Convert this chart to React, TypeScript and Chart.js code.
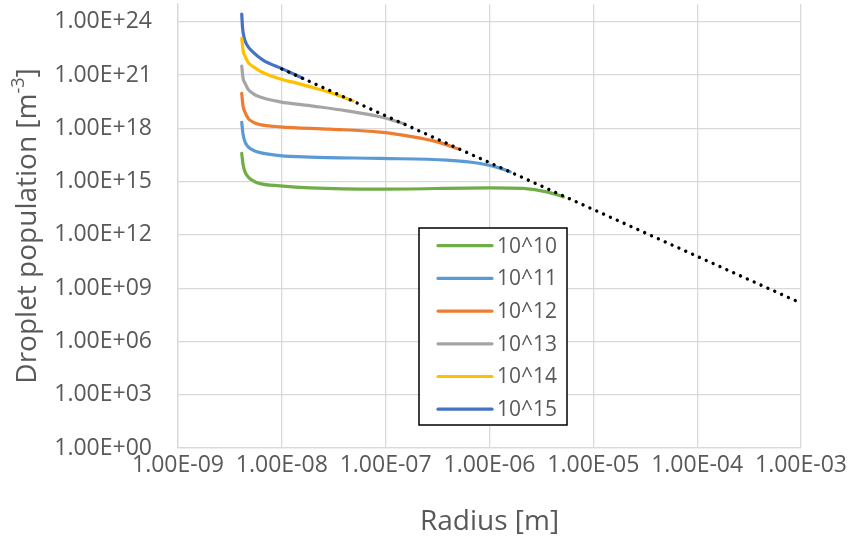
import React, { useEffect, useRef } from 'react';
import { Chart, registerables } from 'chart.js';

Chart.register(...registerables);

// ---- Data (radius [m], droplet population [m^-3]) ----
const seriesLabels = ['10^10', '10^11', '10^12', '10^13', '10^14', '10^15'];
const seriesColors = ['#70AD47', '#5B9BD5', '#ED7D31', '#A5A5A5', '#FFC000', '#4472C4'];

const r10 = [4.11e-9, 4.23e-9, 4.42e-9, 4.72e-9, 5.16e-9, 6.17e-9, 9.61e-9, 1.87e-8, 8.83e-8, 1.01e-6, 2.12e-6, 3.56e-6, 5.15e-6];
const n10 = [3.85e16, 9.62e15, 3.54e15, 1.9e15, 1.21e15, 7.67e14, 5.77e14, 4.45e14, 3.75e14, 4.45e14, 4.11e14, 2.65e14, 1.38e14];

const r11 = [4.11e-9, 4.23e-9, 4.42e-9, 4.72e-9, 5.28e-9, 6.17e-9, 9.61e-9, 1.87e-8, 8.83e-8, 3.9e-7, 8.12e-7, 1.265e-6, 1.58e-6];
const n11 = [2.15e18, 4.71e17, 1.73e17, 9.3e16, 5.91e16, 4.28e16, 2.9e16, 2.39e16, 2.01e16, 1.62e16, 1.05e16, 5.73e15, 3.55e15];

const r12 = [4.11e-9, 4.23e-9, 4.42e-9, 4.72e-9, 5.28e-9, 6.17e-9, 9.61e-9, 2.91e-8, 8.83e-8, 1.84e-7, 3.13e-7, 5.01e-7];
const n12 = [9.25e19, 1.78e19, 8.18e18, 3.76e18, 2.23e18, 1.61e18, 1.22e18, 9.02e17, 6.11e17, 3.32e17, 1.73e17, 6.9e16];

const r13 = [4.11e-9, 4.23e-9, 4.42e-9, 4.72e-9, 5.28e-9, 6.17e-9, 9.61e-9, 2.01e-8, 4.22e-8, 8.83e-8, 1.54e-7];
const n13 = [3.19e21, 6.73e20, 3.52e20, 1.61e20, 9.02e19, 5.73e19, 3.11e19, 1.78e19, 9.68e18, 4.45e18, 1.73e18];

const r14 = [4.11e-9, 4.23e-9, 4.42e-9, 4.72e-9, 5.28e-9, 6.17e-9, 7.69e-9, 1.004e-8, 1.4e-8, 2.0e-8, 2.91e-8, 4.85e-8];
const n14 = [1.16e23, 2.55e22, 1.17e22, 5.37e21, 2.99e21, 1.67e21, 9.31e20, 5.55e20, 3.52e20, 1.96e20, 1.03e20, 3.54e19];

const r15 = [4.11e-9, 4.18e-9, 4.32e-9, 4.62e-9, 5.16e-9, 6.59e-9, 1.027e-8, 1.6e-8];
const n15 = [2.72e24, 5.0e23, 1.37e23, 4.87e22, 2.24e22, 6.95e21, 2.16e21, 6.47e20];

const guideR = [1e-8, 1e-3];
const guideN = [2.2e21, 1.43e8];

const xTicks = [1e-9, 1e-8, 1e-7, 1e-6, 1e-5, 1e-4, 1e-3];
const yTicks = [1e0, 1e3, 1e6, 1e9, 1e12, 1e15, 1e18, 1e21, 1e24];

const seriesR = [r10, r11, r12, r13, r14, r15];
const seriesN = [n10, n11, n12, n13, n14, n15];

const FONT = "'Open Sans', 'Noto Sans', sans-serif";
const TEXT = '#595959';
const GRID = '#d9d9d9';

function excelExp(v: number): string {
  const [m, e] = Number(v).toExponential(2).split('e');
  const sign = e[0] === '-' ? '-' : '+';
  const digits = e.replace(/^[+-]/, '').padStart(2, '0');
  return `${m}E${sign}${digits}`;
}

const yTitlePlugin = {
  id: 'yTitleSup',
  afterDraw(chart: any) {
    const { ctx, chartArea } = chart;
    const cy = (chartArea.top + chartArea.bottom) / 2;
    const cx = 28;
    const mainFont = `28px ${FONT}`;
    const supFont = `18px ${FONT}`;
    const a = 'Droplet population [m';
    const s = '-3';
    const b = ']';
    ctx.save();
    ctx.translate(cx, cy);
    ctx.rotate(-Math.PI / 2);
    ctx.fillStyle = TEXT;
    ctx.textBaseline = 'middle';
    ctx.textAlign = 'left';
    ctx.font = mainFont;
    const wa = ctx.measureText(a).width;
    const wb = ctx.measureText(b).width;
    ctx.font = supFont;
    const ws = ctx.measureText(s).width;
    const total = wa + ws + wb;
    let x = -total / 2;
    ctx.font = mainFont;
    ctx.fillText(a, x, 0);
    x += wa;
    ctx.font = supFont;
    ctx.fillText(s, x, -9);
    x += ws;
    ctx.font = mainFont;
    ctx.fillText(b, x, 0);
    ctx.restore();
  },
};

const legendPlugin = {
  id: 'boxLegend',
  afterDraw(chart: any) {
    const { ctx, chartArea } = chart;
    const left = chartArea.left + 241;
    const top = chartArea.top + 224;
    const w = 148;
    const h = 197;
    ctx.save();
    ctx.fillStyle = '#ffffff';
    ctx.fillRect(left, top, w, h);
    ctx.strokeStyle = '#000000';
    ctx.lineWidth = 1.5;
    ctx.strokeRect(left, top, w, h);
    const items = chart.data.datasets.filter((d: any) => d.inLegend);
    items.forEach((d: any, i: number) => {
      const y = top + 17.7 + i * 32.7;
      ctx.strokeStyle = d.borderColor;
      ctx.lineWidth = 3.2;
      ctx.lineCap = 'round';
      ctx.beginPath();
      ctx.moveTo(left + 19, y);
      ctx.lineTo(left + 73, y);
      ctx.stroke();
      ctx.fillStyle = TEXT;
      ctx.font = `21px ${FONT}`;
      ctx.textBaseline = 'middle';
      ctx.textAlign = 'left';
      ctx.fillText(d.label, left + 78, y + 1);
    });
    ctx.restore();
  },
};

export default function App() {
  const canvasRef = useRef<HTMLCanvasElement | null>(null);

  useEffect(() => {
    if (!canvasRef.current) return;
    const datasets: any[] = [
      {
        label: 'guide',
        inLegend: false,
        data: guideR.map((x, i) => ({ x, y: guideN[i] })),
        borderColor: '#000000',
        borderWidth: 3.4,
        borderDash: [0.01, 7.5],
        borderCapStyle: 'round',
        showLine: true,
        pointRadius: 0,
        order: 0,
      },
      ...seriesLabels.map((label, k) => ({
        label,
        inLegend: true,
        data: seriesR[k].map((x, i) => ({ x, y: seriesN[k][i] })),
        borderColor: seriesColors[k],
        backgroundColor: seriesColors[k],
        borderWidth: 3.2,
        borderCapStyle: 'round',
        borderJoinStyle: 'round',
        showLine: true,
        pointRadius: 0,
        cubicInterpolationMode: 'monotone',
        order: 1,
      })),
    ];

    const chart = new Chart(canvasRef.current, {
      type: 'scatter',
      data: { datasets },
      options: {
        animation: false,
        responsive: false,
        maintainAspectRatio: false,
        layout: { padding: { top: 4, right: 50, bottom: 0, left: 0 } },
        plugins: {
          legend: { display: false },
          tooltip: { enabled: false },
        },
        scales: {
          x: {
            type: 'logarithmic',
            min: 1e-9,
            max: 1e-3,
            afterBuildTicks: (axis: any) => {
              axis.ticks = xTicks.map((v) => ({ value: v }));
            },
            afterFit: (axis: any) => {
              axis.height = 99;
              axis.paddingLeft = 0;
              axis.paddingRight = 0;
            },
            grid: { color: GRID, lineWidth: 1.3, drawTicks: false },
            border: { color: GRID, width: 1.3 },
            ticks: {
              autoSkip: false,
              maxRotation: 0,
              padding: 4,
              color: TEXT,
              font: { family: FONT, size: 23 },
              callback: (v: any) => excelExp(Number(v)),
            },
            title: {
              display: true,
              text: 'Radius [m]',
              color: TEXT,
              font: { family: FONT, size: 28 },
              padding: { top: 0, bottom: 8 },
            },
          },
          y: {
            type: 'logarithmic',
            min: 1,
            max: 1e25,
            afterBuildTicks: (axis: any) => {
              axis.ticks = yTicks.map((v) => ({ value: v }));
            },
            afterFit: (axis: any) => {
              axis.width = 178;
              axis.paddingTop = 0;
              axis.paddingBottom = 0;
            },
            grid: { color: GRID, lineWidth: 1.3, drawTicks: false },
            border: { color: GRID, width: 1.3 },
            ticks: {
              autoSkip: false,
              padding: 26,
              color: TEXT,
              font: { family: FONT, size: 23 },
              callback: (v: any) => excelExp(Number(v)),
            },
          },
        },
      },
      plugins: [yTitlePlugin, legendPlugin],
    } as any);

    return () => chart.destroy();
  }, []);

  return (
    <div style={{ position: 'absolute', left: 0, top: 0, width: 851, height: 547, background: '#fff' }}>
      <canvas ref={canvasRef} width={851} height={547} style={{ display: 'block' }} />
    </div>
  );
}
